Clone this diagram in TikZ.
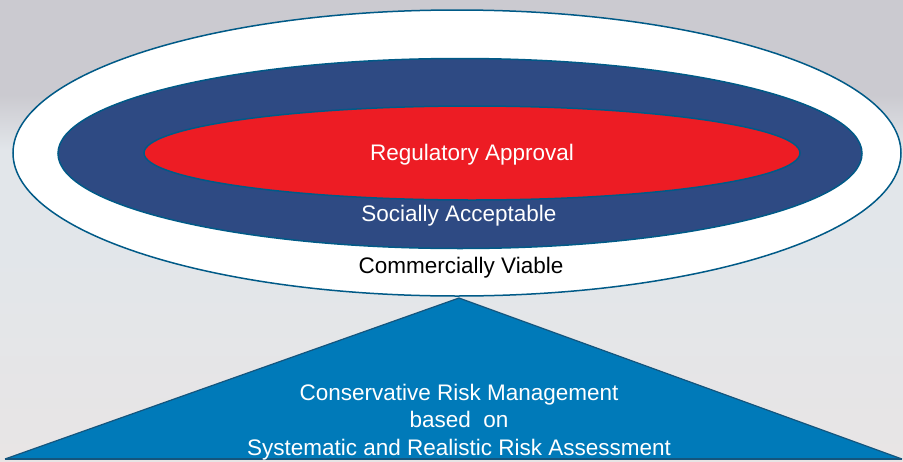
\documentclass[tikz,border=0pt]{standalone}
\usepackage{fontspec}
\setmainfont{Liberation Sans}
\usetikzlibrary{shapes.geometric}
\definecolor{bgtop}{RGB}{203,202,208}
\definecolor{bgmid}{RGB}{226,230,234}
\definecolor{bglow}{RGB}{232,229,229}
\definecolor{rimblue}{RGB}{0,90,135}
\definecolor{darkblue}{RGB}{46,74,131}
\definecolor{redfill}{RGB}{237,28,36}
\definecolor{triblue}{RGB}{0,122,185}
\definecolor{triedge}{RGB}{20,85,125}
\tikzset{
  ring/.style={ellipse, draw=rimblue, line width=1.5pt, inner sep=0pt},
  lbl/.style={font=\fontsize{22.5}{27}\selectfont, inner sep=0pt, align=center},
}
\begin{document}
\begin{tikzpicture}[x=1pt,y=-1pt]
\useasboundingbox (0,0) rectangle (903,461);
% background
\fill[bgtop] (0,0) rectangle (903,95);
\shade[top color=bgtop, bottom color=bgmid] (0,95) rectangle (903,150);
\fill[bgmid] (0,150) rectangle (903,250);
\shade[top color=bgmid, bottom color=bglow] (0,250) rectangle (903,461);
% ellipses
\node[ring, fill=white, minimum width=888, minimum height=286] (outer) at (457,153) {};
\node[ring, fill=darkblue, minimum width=804, minimum height=190] (mid) at (460,153.5) {};
\node[ring, fill=redfill, minimum width=656, minimum height=94] (inner) at (472,153) {};
\node[lbl, text=white] (reg) at (472,155) {Regulatory Approval};
\node[lbl, text=white] (soc) at (459,216) {Socially Acceptable};
\node[lbl, text=black] (com) at (461,268) {Commercially Viable};
% triangle
\coordinate (apex) at (459,298);
\coordinate (bl) at (5,459);
\coordinate (br) at (902,459);
\fill[triblue] (apex) -- (br) -- (bl) -- cycle;
\draw[triedge, line width=1.2pt, line join=miter] (bl) -- (apex) -- (br);
\draw[triedge, line width=2pt] (bl) -- (br);
\node[lbl, text=white, font=\fontsize{22.5}{27.5}\selectfont] (tri) at (459,422) {Conservative Risk Management\\based\ \ on\\Systematic and Realistic Risk Assessment};
\end{tikzpicture}
\end{document}
